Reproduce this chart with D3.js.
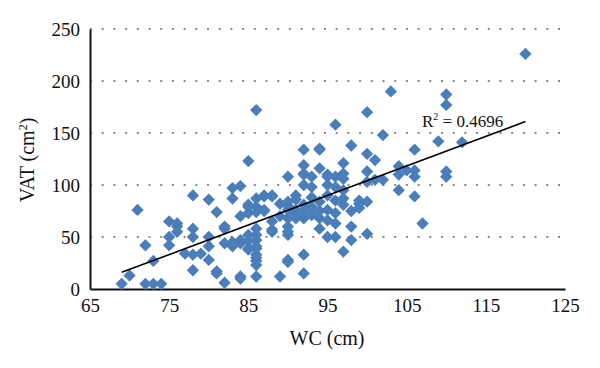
<!DOCTYPE html>
<html>
<head>
<meta charset="utf-8">
<script src="https://cdn.jsdelivr.net/npm/d3@7"></script>
<style>
  body { margin: 0; background: #fff; }
  svg { display: block; }
  text { font-family: "Liberation Serif", "Times New Roman", serif; fill: #111; }
</style>
</head>
<body>
<svg id="chart" width="600" height="368"></svg>
<script>
// ---- data ----
const wc = [
  69, 70, 71, 72, 72, 73, 73, 74,
  75, 75, 75, 76, 76, 76, 77,
  78, 78, 78, 78, 78, 79,
  80, 80, 80, 80, 81, 81, 81,
  82, 82, 82, 82, 83, 83, 83, 83,
  84, 84, 84, 84, 84, 84,
  85, 85, 85, 85, 85, 85, 85, 85,
  86, 86, 86, 86, 86, 86, 86, 86, 86, 86, 86, 86, 86, 86,
  87, 87, 87, 87, 88, 88, 88, 88, 88, 89, 89, 89,
  90, 90, 90, 90, 90, 90, 90, 90, 90, 90,
  91, 91, 91, 91, 91,
  92, 92, 92, 92, 92, 92, 92, 92, 92, 92,
  93, 93, 93, 93, 93,
  94, 94, 94, 94, 94, 94, 94,
  95, 95, 95, 95, 95, 95, 95,
  96, 96, 96, 96, 96, 96, 96,
  97, 97, 97, 97, 97, 97, 97,
  98, 98, 98, 98, 99, 99, 99,
  100, 100, 100, 100, 100, 100, 101, 101, 102, 102, 103,
  104, 104, 104, 105, 106, 106, 106, 106, 107, 109,
  110, 110, 110, 110, 112, 120
];
const vat = [
  5, 13, 76, 42, 5, 27, 5, 5,
  65, 50, 42, 63, 55, 60, 34,
  90, 58, 50, 33, 18, 34,
  86, 50, 41, 28, 74, 17, 15,
  60, 58, 44, 6, 97, 87, 45, 41,
  99, 70, 47, 44, 10, 12,
  123, 81, 73, 79, 52, 46, 39, 38,
  172, 87, 79, 74, 58, 52, 47, 41, 39, 33, 30, 27, 23, 12,
  90, 89, 76, 75, 89, 90, 65, 57, 55, 12, 70, 82,
  108, 84, 76, 68, 60, 55, 52, 28, 26, 80,
  90, 86, 76, 68, 72,
  134, 119, 111, 110, 81, 68, 33, 15, 75, 100,
  108, 98, 79, 71, 88,
  135, 134, 116, 68, 58, 84, 75,
  110, 108, 100, 76, 66, 50, 90,
  158, 108, 98, 73, 63, 50, 85,
  121, 111, 106, 95, 87, 81, 36,
  138, 47, 75, 60, 82, 78, 85,
  170, 130, 113, 103, 84, 53, 124, 105, 148, 105, 190,
  118, 110, 95, 114, 134, 114, 108, 89, 63, 142,
  187, 177, 113, 108, 141, 226
];
const trendX = [69, 120];
const trendY = [16, 161];
const xTicks = [65, 75, 85, 95, 105, 115, 125];
const yTicks = [0, 50, 100, 150, 200, 250];
const r2Label = "0.4696";
const xTitle = "WC (cm)";
const yTitle = "VAT (cm";

// ---- drawing ----
const svg = d3.select("#chart");
const x = d3.scaleLinear().domain([65, 125]).range([90, 565]);
const y = d3.scaleLinear().domain([0, 250]).range([289, 29]);

// gridlines
svg.append("g").selectAll("line")
  .data(yTicks.filter(d => d > 0))
  .join("line")
  .attr("x1", x(65)).attr("x2", x(125))
  .attr("y1", d => y(d)).attr("y2", d => y(d))
  .attr("stroke", "#8a8a8a")
  .attr("stroke-width", 2)
  .attr("stroke-dasharray", "2,9.7");

// axes
const yAxis = svg.append("g")
  .attr("transform", `translate(${x(65)},0)`)
  .call(d3.axisLeft(y).tickValues(yTicks).tickSize(0).tickPadding(10));
const xAxis = svg.append("g")
  .attr("transform", `translate(0,${y(0)})`)
  .call(d3.axisBottom(x).tickValues(xTicks).tickSize(0).tickPadding(10));
[xAxis, yAxis].forEach(a => {
  a.select(".domain").attr("stroke", "#111").attr("stroke-width", 2);
  a.selectAll("text").attr("font-size", 19).attr("font-family", "Liberation Serif, serif").attr("fill", "#111");
});

// points
const pts = wc.map((d, i) => ({ wc: d, vat: vat[i] }));
const diamond = d3.symbol().type(d3.symbolSquare).size(76);
svg.append("g").selectAll("path")
  .data(pts)
  .join("path")
  .attr("d", diamond)
  .attr("transform", d => `translate(${x(d.wc)},${y(d.vat)}) rotate(45)`)
  .attr("fill", "#4a7ebb");

// trend line
svg.append("line")
  .attr("x1", x(trendX[0])).attr("y1", y(trendY[0]))
  .attr("x2", x(trendX[1])).attr("y2", y(trendY[1]))
  .attr("stroke", "#000").attr("stroke-width", 1.6);

// R² label
const r2 = svg.append("text")
  .attr("x", 422).attr("y", 127)
  .attr("font-size", 17);
r2.append("tspan").text("R");
r2.append("tspan").attr("font-size", 10).attr("dy", -7).text("2");
r2.append("tspan").attr("dy", 7).text(" = " + r2Label);

// axis titles
svg.append("text")
  .attr("x", 327).attr("y", 345)
  .attr("text-anchor", "middle")
  .attr("font-size", 20)
  .text(xTitle);
const yt = svg.append("text")
  .attr("transform", "translate(34,160) rotate(-90)")
  .attr("text-anchor", "middle")
  .attr("font-size", 20);
yt.append("tspan").text(yTitle);
yt.append("tspan").attr("font-size", 12).attr("dy", -7).text("2");
yt.append("tspan").attr("dy", 7).text(")");
</script>
</body>
</html>
